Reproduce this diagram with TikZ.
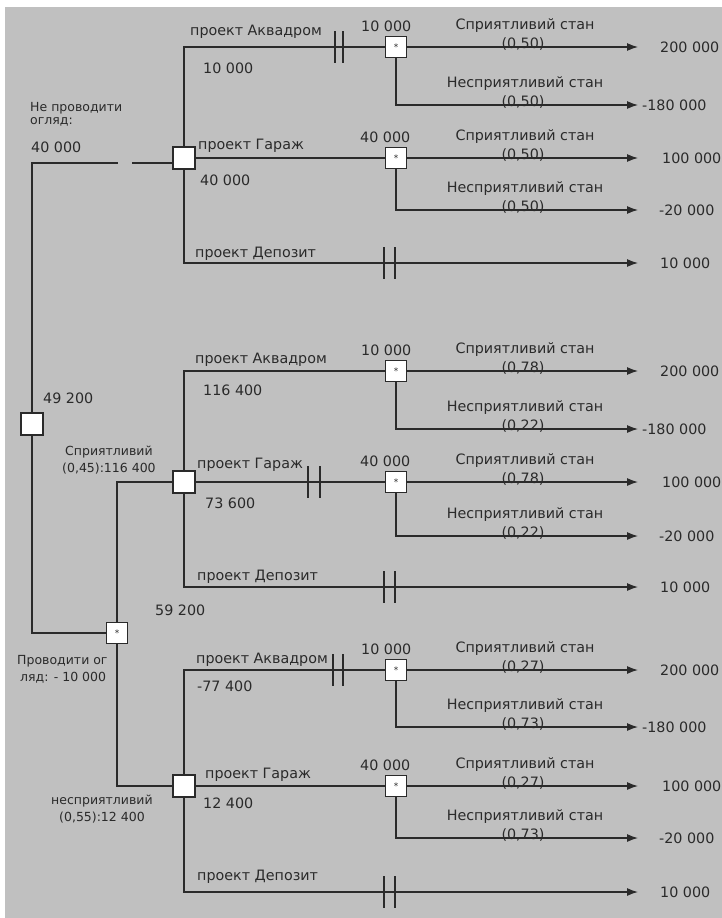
\documentclass[tikz,border=0pt]{standalone}
\usepackage{fontspec}
\setmainfont{DejaVu Sans}
\usetikzlibrary{arrows.meta}
\definecolor{bg}{HTML}{C0C0C0}
\definecolor{ln}{HTML}{2A2A2A}

\begin{document}
\begin{tikzpicture}[x=1pt,y=-1pt]
\tikzstyle{every node}=[inner sep=0pt,text=ln]
\tikzstyle{lbl}=[font=\fontsize{14.3}{16}\selectfont,anchor=base west]
\tikzstyle{st}=[font=\fontsize{14.3}{16}\selectfont,anchor=base]
\tikzstyle{val}=[font=\fontsize{14.3}{16}\selectfont,anchor=west]
\tikzstyle{sml}=[font=\fontsize{12.5}{14}\selectfont,anchor=base west]
\tikzstyle{dec}=[draw=ln,fill=white,minimum size=22pt,line width=1.1pt]
\tikzstyle{chn}=[draw=ln,fill=white,minimum size=21pt,line width=1.1pt,font=\fontsize{9}{9}\selectfont]
\tikzstyle{br}=[draw=ln,line width=1.2pt]
\tikzstyle{arr}=[br,-{Latex[length=11pt,width=8pt]}]

\useasboundingbox (0,0) rectangle (722,918);
\fill[bg] (5,7) rectangle (722,918);

\node[dec] (r) at (32,424) {};
\node[chn] (rc) at (117,633) {*};
\node[dec] (d1) at (184,158) {};
\node[dec] (d2) at (184,482) {};
\node[dec] (d3) at (184,786) {};
\node[chn] (c1a) at (396,47) {*};
\node[chn] (c1g) at (396,158) {*};
\node[chn] (c2a) at (396,371) {*};
\node[chn] (c2g) at (396,482) {*};
\node[chn] (c3a) at (396,670) {*};
\node[chn] (c3g) at (396,786) {*};
\coordinate (g1) at (118,163);
\coordinate (g2) at (132,163);
\coordinate (e1a) at (638,47);   \coordinate (e1b) at (638,105);
\coordinate (e1g) at (638,158);  \coordinate (e1h) at (638,210);
\coordinate (e1d) at (638,263);
\coordinate (e2a) at (638,371);  \coordinate (e2b) at (638,429);
\coordinate (e2g) at (638,482);  \coordinate (e2h) at (638,536);
\coordinate (e2d) at (638,587);
\coordinate (e3a) at (638,670);  \coordinate (e3b) at (638,727);
\coordinate (e3g) at (638,786);  \coordinate (e3h) at (638,838);
\coordinate (e3d) at (638,892);

\draw[br] (r) |- (g1);
\draw[br] (g2) -- (g2 -| d1.west);
\draw[br] (r) |- (rc);
\draw[br] (rc) |- (d2);
\draw[br] (rc) |- (d3);

\draw[br] (d1) |- (c1a);
\draw[br] (d1) -- (c1g);
\draw[arr] (d1) |- (e1d);
\draw[arr] (c1a) -- (e1a);
\draw[arr] (c1a) |- (e1b);
\draw[arr] (c1g) -- (e1g);
\draw[arr] (c1g) |- (e1h);

\draw[br] (d2) |- (c2a);
\draw[br] (d2) -- (c2g);
\draw[arr] (d2) |- (e2d);
\draw[arr] (c2a) -- (e2a);
\draw[arr] (c2a) |- (e2b);
\draw[arr] (c2g) -- (e2g);
\draw[arr] (c2g) |- (e2h);

\draw[br] (d3) |- (c3a);
\draw[br] (d3) -- (c3g);
\draw[arr] (d3) |- (e3d);
\draw[arr] (c3a) -- (e3a);
\draw[arr] (c3a) |- (e3b);
\draw[arr] (c3g) -- (e3g);
\draw[arr] (c3g) |- (e3h);

\draw[br] (335,31) -- (335,63) (343,31) -- (343,63);
\draw[br] (384,247) -- (384,279) (395,247) -- (395,279);
\draw[br] (308,466) -- (308,498) (320,466) -- (320,498);
\draw[br] (384,571) -- (384,603) (395,571) -- (395,603);
\draw[br] (333,654) -- (333,686) (343,654) -- (343,686);
\draw[br] (384,876) -- (384,908) (395,876) -- (395,908);

\node[sml] at (30,111) {Не проводити};
\node[sml] at (30,124) {огляд:};
\node[lbl] at (31,152) {40 000};
\node[lbl] at (43,403) {49 200};
\node[sml] at (65,455) {Сприятливий};
\node[sml] at (62,472) {(0,45):116 400};
\node[lbl] at (155,615) {59 200};
\node[sml] at (17,664) {Проводити ог};
\node[sml] at (20,681) {ляд: - 10 000};
\node[sml] at (51,804) {несприятливий};
\node[sml] at (59,821) {(0,55):12 400};

\node[lbl] at (190,35) {проект Аквадром};
\node[lbl] at (203,73) {10 000};
\node[lbl] at (198,149) {проект Гараж};
\node[lbl] at (200,185) {40 000};
\node[lbl] at (195,257) {проект Депозит};
\node[lbl] at (195,363) {проект Аквадром};
\node[lbl] at (203,395) {116 400};
\node[lbl] at (197,468) {проект Гараж};
\node[lbl] at (205,508) {73 600};
\node[lbl] at (197,580) {проект Депозит};
\node[lbl] at (196,663) {проект Аквадром};
\node[lbl] at (197,691) {-77 400};
\node[lbl] at (205,778) {проект Гараж};
\node[lbl] at (203,808) {12 400};
\node[lbl] at (197,880) {проект Депозит};

\node[lbl] at (361,31) {10 000};
\node[lbl] at (360,142) {40 000};
\node[lbl] at (361,355) {10 000};
\node[lbl] at (360,466) {40 000};
\node[lbl] at (361,654) {10 000};
\node[lbl] at (360,770) {40 000};

\node[st] at (525,29) {Сприятливий стан};
\node[st] at (523,48) {(0,50)};
\node[st] at (525,87) {Несприятливий стан};
\node[st] at (523,106) {(0,50)};
\node[st] at (525,140) {Сприятливий стан};
\node[st] at (523,159) {(0,50)};
\node[st] at (525,192) {Несприятливий стан};
\node[st] at (523,211) {(0,50)};
\node[st] at (525,353) {Сприятливий стан};
\node[st] at (523,372) {(0,78)};
\node[st] at (525,411) {Несприятливий стан};
\node[st] at (523,430) {(0,22)};
\node[st] at (525,464) {Сприятливий стан};
\node[st] at (523,483) {(0,78)};
\node[st] at (525,518) {Несприятливий стан};
\node[st] at (523,537) {(0,22)};
\node[st] at (525,652) {Сприятливий стан};
\node[st] at (523,671) {(0,27)};
\node[st] at (525,709) {Несприятливий стан};
\node[st] at (523,728) {(0,73)};
\node[st] at (525,768) {Сприятливий стан};
\node[st] at (523,787) {(0,27)};
\node[st] at (525,820) {Несприятливий стан};
\node[st] at (523,839) {(0,73)};

\node[val] at (660,47) {200 000};
\node[val] at (642,105) {-180 000};
\node[val] at (662,158) {100 000};
\node[val] at (659,210) {-20 000};
\node[val] at (660,263) {10 000};
\node[val] at (660,371) {200 000};
\node[val] at (642,429) {-180 000};
\node[val] at (662,482) {100 000};
\node[val] at (659,536) {-20 000};
\node[val] at (660,587) {10 000};
\node[val] at (660,670) {200 000};
\node[val] at (642,727) {-180 000};
\node[val] at (662,786) {100 000};
\node[val] at (659,838) {-20 000};
\node[val] at (660,892) {10 000};
\end{tikzpicture}
\end{document}
